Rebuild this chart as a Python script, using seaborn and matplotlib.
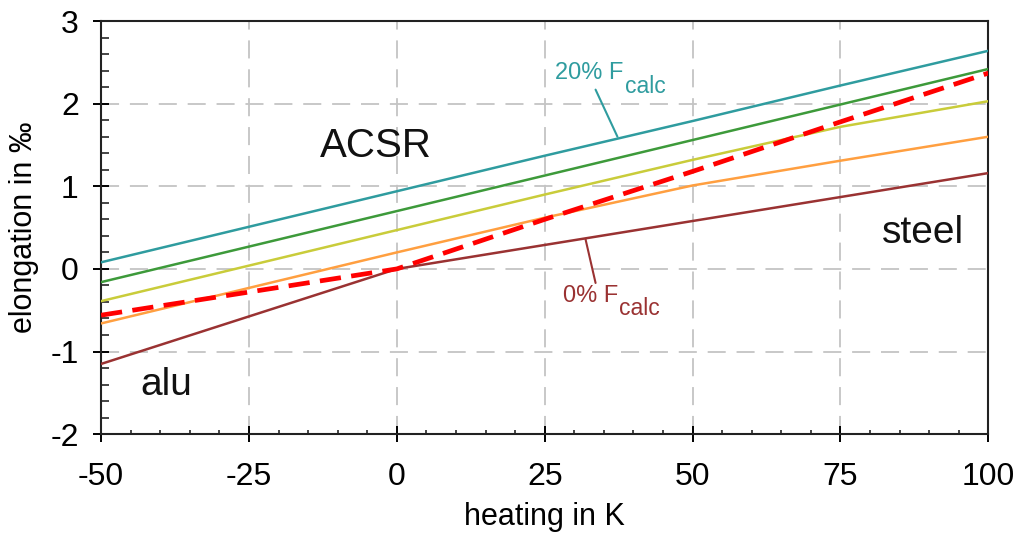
import matplotlib
matplotlib.use("Agg")
import matplotlib.pyplot as plt
import seaborn as sns
import numpy as np
import pandas as pd
from matplotlib.ticker import MultipleLocator

# ---- data ----
heating = [-50, -25, 0, 25, 50, 75, 100]
f20 = [0.08, 0.51, 0.94, 1.37, 1.79, 2.22, 2.64]      # teal, 20% Fcalc
f15 = [-0.16, 0.27, 0.70, 1.13, 1.56, 1.99, 2.42]     # green
f10 = [-0.39, 0.04, 0.47, 0.90, 1.32, 1.72, 2.03]     # yellow
f05 = [-0.66, -0.23, 0.20, 0.62, 1.01, 1.31, 1.60]    # orange
f00 = [-1.15, -0.575, 0.0, 0.29, 0.58, 0.87, 1.16]    # brown, 0% Fcalc
acsr = [-0.56, -0.28, 0.0, 0.60, 1.18, 1.78, 2.37]    # red dashed
x_ticks = [-50, -25, 0, 25, 50, 75, 100]
y_ticks = [-2, -1, 0, 1, 2, 3]

sns.set_theme(style="white")
plt.rcParams['font.family'] = ['Liberation Sans', 'DejaVu Sans']
plt.rcParams['text.color'] = 'black'
plt.rcParams['axes.labelcolor'] = 'black'

fig = plt.figure(figsize=(10.21, 5.40), dpi=100)
ax = fig.add_axes([0.099, 0.196, 0.869, 0.765])

series = [
    (f20, "#2f9c9f"),
    (f15, "#3d9a3a"),
    (f10, "#c9cc3a"),
    (f05, "#ff9f40"),
    (f00, "#9a3232"),
]
for vals, col in series:
    sns.lineplot(x=heating, y=vals, color=col, linewidth=1.8, ax=ax, zorder=3)
sns.lineplot(x=heating, y=acsr, color="#ff0000", linewidth=3.4, ax=ax, zorder=4)
ax.lines[-1].set_dashes((4.5, 2.2))

ax.set_xlim(-50, 100)
ax.set_ylim(-2, 3)
ax.set_xticks(x_ticks)
ax.set_yticks(y_ticks)
ax.xaxis.set_minor_locator(MultipleLocator(5))
ax.yaxis.set_minor_locator(MultipleLocator(0.2))
ax.set_xticklabels([str(v) for v in x_ticks])
ax.set_yticklabels([str(v) for v in y_ticks])

ax.grid(True, which='major', color='#c4c4c4', linestyle=(0, (10, 6)), linewidth=1.3, zorder=0)
ax.set_axisbelow(True)

ax.tick_params(axis='both', which='major', direction='inout', length=12, width=1.4,
               labelsize=23, colors='black', left=True, bottom=True)
ax.tick_params(axis='x', which='major', pad=14)
ax.tick_params(axis='y', which='major', pad=10)
ax.tick_params(axis='y', which='minor', direction='in', length=6, width=1.2, left=True)
ax.tick_params(axis='x', which='minor', direction='in', length=3, width=1.2, bottom=True)
for s in ax.spines.values():
    s.set_color('#222222')
    s.set_linewidth(1.5)

ax.set_xlabel("heating in K", fontsize=22, labelpad=7)
ax.set_ylabel("elongation in ‰", fontsize=22, labelpad=8)

ax.text(-3.6, 1.49, "ACSR", fontsize=29, ha='center', va='center', color='#111111')
ax.text(89, 0.43, "steel", fontsize=28, ha='center', va='center', color='#111111')
ax.text(-39, -1.40, "alu", fontsize=28, ha='center', va='center', color='#111111')

# annotations: main part + larger, lower subscript
ax.text(38.3, 2.37, "20% F", fontsize=17, ha='right', va='center', color='#2f9c9f')
ax.text(38.5, 2.21, "calc", fontsize=16.5, ha='left', va='center', color='#2f9c9f')
ax.plot([33.6, 37.3], [2.17, 1.60], color='#2f9c9f', linewidth=1.5, zorder=3)
ax.text(37.4, -0.33, "0% F", fontsize=17, ha='right', va='center', color='#9a3232')
ax.text(37.6, -0.48, "calc", fontsize=16.5, ha='left', va='center', color='#9a3232')
ax.plot([31.9, 33.6], [0.36, -0.17], color='#9a3232', linewidth=1.5, zorder=3)

fig.savefig("out.png", dpi=100)
